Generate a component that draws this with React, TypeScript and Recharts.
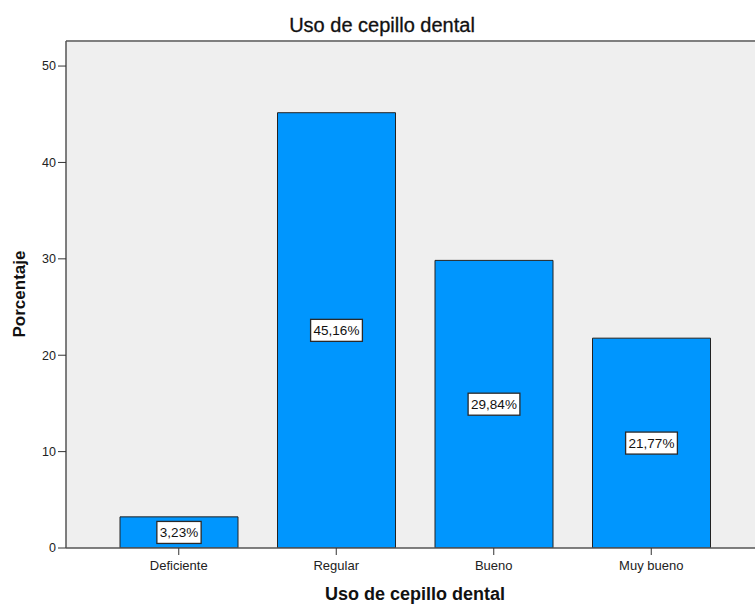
import { Bar, BarChart, CartesianGrid, LabelList, ReferenceLine, XAxis, YAxis } from 'recharts'

const categories = ['Deficiente', 'Regular', 'Bueno', 'Muy bueno']
const percentages = [3.23, 45.16, 29.84, 21.77]
const yTicks = [0, 10, 20, 30, 40, 50]
const yMax = 52.6

const data = categories.map((name, i) => ({ name, value: percentages[i] }))

const FONT = '"Liberation Sans", Arial, sans-serif'
const BAR_BLUE = '#0096fe'
const AXIS_GREY = '#555555'

// rough Arial widths (em) for the few glyphs used in the value boxes
const glyphWidth: Record<string, number> = { ',': 0.278, '%': 0.889 }

function formatPct(v: number) {
  return `${v.toFixed(2).replace('.', ',')}%`
}

function ValueBox(props: any) {
  const { x, y, width, height, value } = props
  const text = formatPct(Number(value))
  const fontSize = 13.5
  const textW = text.split('').reduce((s, c) => s + (glyphWidth[c] ?? 0.556), 0) * fontSize
  const boxW = textW + 6
  const boxH = 22
  const cx = Number(x) + Number(width) / 2
  const cy = Number(y) + Number(height) / 2
  return (
    <g>
      <rect
        x={cx - boxW / 2}
        y={cy - boxH / 2}
        width={boxW}
        height={boxH}
        fill="#ffffff"
        stroke="#2a2a2a"
        strokeWidth={1.3}
      />
      <text
        x={cx}
        y={cy}
        textAnchor="middle"
        dominantBaseline="central"
        fontFamily={FONT}
        fontSize={fontSize}
        fill="#111111"
      >
        {text}
      </text>
    </g>
  )
}

export default function App() {
  return (
    <div style={{ position: 'relative', width: 755, height: 604, background: '#ffffff', fontFamily: FONT }}>
      <style>{'body{margin:0}'}</style>
      <div
        style={{
          position: 'absolute',
          left: 382,
          top: 25,
          transform: 'translate(-50%, -50%)',
          fontSize: 20,
          color: '#111111',
          whiteSpace: 'nowrap',
          WebkitTextStroke: '0.3px #111111',
        }}
      >
        Uso de cepillo dental
      </div>
      <div
        style={{
          position: 'absolute',
          left: 20,
          top: 294,
          transform: 'translate(-50%, -50%) rotate(-90deg)',
          fontSize: 17,
          fontWeight: 700,
          color: '#111111',
          whiteSpace: 'nowrap',
        }}
      >
        Porcentaje
      </div>
      <div
        style={{
          position: 'absolute',
          left: 415,
          top: 594,
          transform: 'translate(-50%, -50%)',
          fontSize: 18,
          fontWeight: 700,
          color: '#111111',
          whiteSpace: 'nowrap',
        }}
      >
        Uso de cepillo dental
      </div>
      <BarChart
        width={755}
        height={604}
        data={data}
        margin={{ top: 41, right: 0, bottom: 0, left: 6 }}
        style={{ position: 'absolute', left: 0, top: 0 }}
      >
        <CartesianGrid fill="#efefef" stroke="none" horizontal={false} vertical={false} />
        <XAxis
          dataKey="name"
          height={56}
          padding={{ left: 34, right: 25 }}
          axisLine={{ stroke: AXIS_GREY, strokeWidth: 1.5 }}
          tickLine={{ stroke: '#333333' }}
          tickSize={7}
          tickMargin={6}
          tick={{ fontSize: 13, fill: '#222222', fontFamily: FONT }}
          interval={0}
        />
        <YAxis
          width={60}
          domain={[0, yMax]}
          ticks={yTicks}
          allowDataOverflow
          axisLine={{ stroke: AXIS_GREY, strokeWidth: 1.5 }}
          tickLine={{ stroke: '#333333' }}
          tickSize={8}
          tickMargin={2}
          tick={{ fontSize: 12.5, fill: '#222222', fontFamily: FONT }}
        />
        <ReferenceLine y={yMax} stroke="#7f7f7f" strokeWidth={2} />
        <Bar
          dataKey="value"
          fill={BAR_BLUE}
          stroke="#222222"
          strokeWidth={1}
          barSize={118}
          isAnimationActive={false}
        >
          <LabelList dataKey="value" content={ValueBox} />
        </Bar>
      </BarChart>
    </div>
  )
}
